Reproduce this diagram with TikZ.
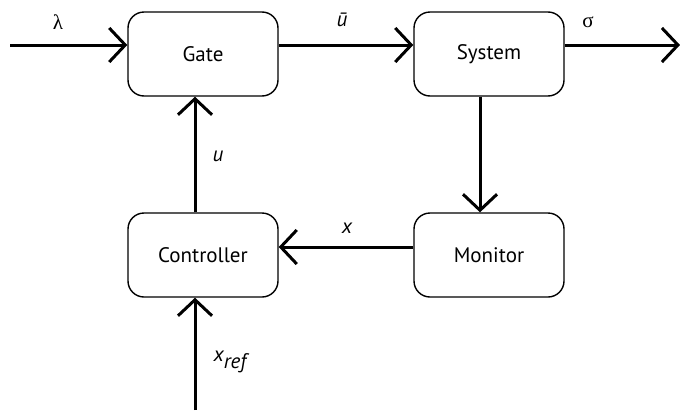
\documentclass[tikz,border=0pt]{standalone}
\usepackage{fontspec}
\setmainfont{PT Sans}
\newfontfamily\greekfont{Liberation Serif}
\usetikzlibrary{arrows.meta}
\tikzset{>={Straight Barb[length=16pt,width=34pt]}}
\tikzset{
	block/.style={draw, line width=1.4pt, rounded corners=16pt, minimum width=150pt, minimum height=84pt, font=\fontsize{21}{24}\selectfont},
	sig/.style={line width=3pt, ->},
	lbl/.style={font=\fontsize{21}{24}\selectfont\itshape}
}

\begin{document}
\begin{tikzpicture}[x=1pt,y=-1pt]
	\useasboundingbox (0,0) rectangle (680,410);

	\node[block] (gate) at (203,54) {Gate};
	\node[block] (system) at (489,54) {System};
	\node[block] (ctrl) at (203,255) {Controller};
	\node[block] (monitor) at (489,255) {Monitor};

	\coordinate (lamin) at (10,45);
	\coordinate (sigout) at (680,45);
	\coordinate (xrefin) at (195,410);

	\draw[sig] (lamin) -- ([yshift=9pt]gate.west);
	\draw[sig] ([yshift=9pt]gate.east) -- ([yshift=9pt]system.west);
	\draw[sig] ([yshift=9pt]system.east) -- (sigout);
	\draw[sig] ([xshift=-9pt]system.south) -- ([xshift=-9pt]monitor.north);
	\draw[sig] ([yshift=8pt]monitor.west) -- ([yshift=8pt]ctrl.east);
	\draw[sig] ([xshift=-8pt]ctrl.north) -- ([xshift=-8pt]gate.south);
	\draw[sig] (xrefin) -- ([xshift=-8pt]ctrl.south);

	\node[lbl] (lamlbl) at (58,22) {\greekfont\upshape λ};
	\node[lbl] (ubarlbl) at (342,20) {ū};
	\node[lbl] (siglbl) at (588,22) {\greekfont\upshape σ};
	\node[lbl] (ulbl) at (218,156) {u};
	\node[lbl] (xlbl) at (347,228) {x};
	\node[lbl] (xreflbl) at (230,362) {x\raisebox{-0.7ex}{ref}};
\end{tikzpicture}
\end{document}
